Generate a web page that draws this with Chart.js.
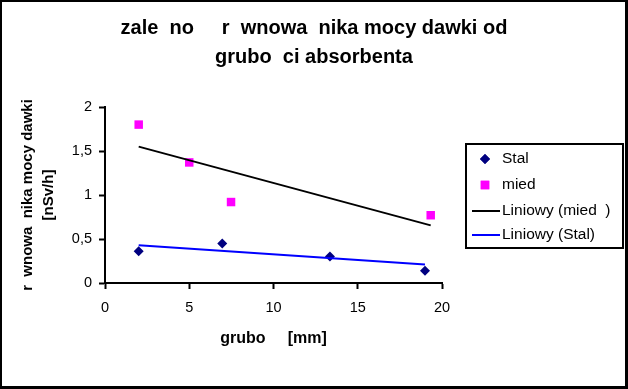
<!DOCTYPE html>
<html>
<head>
<meta charset="utf-8">
<script src="https://cdn.jsdelivr.net/npm/chart.js@4/dist/chart.umd.min.js"></script>
<style>
body{margin:0;background:#fff}
canvas{display:block}
</style>
</head>
<body>
<canvas id="chart" width="628" height="389"></canvas>
<script>
// values
let stalX = [2, 6.96, 13.35, 18.99];
let stalY = [0.36, 0.45, 0.30, 0.14];
let miedX = [2, 5, 7.48, 19.33];
let miedY = [1.80, 1.37, 0.92, 0.77];
// trend line ends (Excel "Liniowy")
let trendMiedX = [2, 19.33];
let trendMiedY = [1.55, 0.655];
let trendStalX = [2, 18.99];
let trendStalY = [0.43, 0.21];
let xTicks = [0, 5, 10, 15, 20];
let yTicks = [0, 0.5, 1, 1.5, 2];

let titleLines = ['zale  no     r  wnowa  nika mocy dawki od', 'grubo  ci absorbenta'];
let yTitle = ['r  wnowa  nika mocy dawki', '[nSv/h]'];
let xTitle = 'grubo     [mm]';
let labels = ['Stal', 'mied ', 'Liniowy (mied  )', 'Liniowy (Stal)'];

const FONT = "'Liberation Sans', Arial, sans-serif";

function pts(xs, ys) {
  return xs.map((x, i) => ({x: x, y: ys[i]}));
}

// outer frame + boxed legend like the Excel chart
const frame = {
  id: 'frame',
  afterDraw(chart) {
    let ctx = chart.ctx;
    ctx.save();
    ctx.fillStyle = '#000';
    ctx.fillRect(0, 0, 628, 2);
    ctx.fillRect(0, 0, 2, 389);
    ctx.fillRect(625, 0, 3, 389);
    ctx.fillRect(0, 386, 628, 3);

    ctx.fillStyle = '#fff';
    ctx.fillRect(465, 143, 159, 106);
    ctx.lineWidth = 2;
    ctx.strokeStyle = '#000';
    ctx.strokeRect(466, 144, 157, 104);

    let rows = [159, 185, 211, 235];
    ctx.font = '15.5px ' + FONT;
    ctx.textBaseline = 'middle';
    ctx.textAlign = 'left';
    chart.data.datasets.forEach((ds, i) => {
      let y = rows[i];
      if (ds.showLine) {
        ctx.strokeStyle = ds.borderColor;
        ctx.lineWidth = ds.borderWidth;
        ctx.beginPath();
        ctx.moveTo(472, y);
        ctx.lineTo(500, y);
        ctx.stroke();
      } else {
        ctx.fillStyle = ds.backgroundColor;
        Chart.helpers.drawPoint(ctx, {pointStyle: ds.pointStyle, radius: ds.pointRadius, borderWidth: 0}, 485, y);
        ctx.fill();
      }
      ctx.fillStyle = '#000';
      ctx.fillText(ds.label, 502, y);
    });
    ctx.restore();
  }
};

new Chart(document.getElementById('chart'), {
  type: 'scatter',
  data: {
    datasets: [
      {label: labels[0], data: pts(stalX, stalY), pointStyle: 'rectRot', pointRadius: 5, backgroundColor: '#000080', borderColor: '#000080', borderWidth: 0, order: 1},
      {label: labels[1], data: pts(miedX, miedY), pointStyle: 'rect', pointRadius: 6, backgroundColor: '#ff00ff', borderColor: '#ff00ff', borderWidth: 0, order: 2},
      {label: labels[2], data: pts(trendMiedX, trendMiedY), showLine: true, pointRadius: 0, borderColor: '#000', backgroundColor: '#000', borderWidth: 2, order: 0},
      {label: labels[3], data: pts(trendStalX, trendStalY), showLine: true, pointRadius: 0, borderColor: '#0000ff', backgroundColor: '#0000ff', borderWidth: 2, order: 0}
    ]
  },
  options: {
    responsive: false,
    animation: false,
    layout: {padding: {top: 4, left: 4, right: 4, bottom: 4}},
    plugins: {
      legend: {display: false},
      tooltip: {enabled: false},
      title: {
        display: true,
        text: titleLines,
        color: '#000',
        font: {family: FONT, size: 20, weight: 'bold', lineHeight: 29 / 20},
        padding: {top: 9.5, bottom: 35.5}
      }
    },
    scales: {
      x: {
        type: 'linear',
        min: 0, max: 20,
        afterBuildTicks: s => { s.ticks = xTicks.map(v => ({value: v})); },
        afterFit: s => { s.height = 102; },
        grid: {drawOnChartArea: false, tickLength: 6, tickColor: '#000', tickWidth: 2},
        border: {color: '#000', width: 2},
        ticks: {color: '#000', font: {family: FONT, size: 14.5}, padding: 10, maxRotation: 0},
        title: {display: true, text: xTitle, color: '#000', font: {family: FONT, size: 16, weight: 'bold'}, padding: {top: 0, bottom: 37}}
      },
      y: {
        type: 'linear',
        min: 0, max: 2,
        afterBuildTicks: s => { s.ticks = yTicks.map(v => ({value: v})); },
        afterFit: s => { s.width = 101; },
        grid: {drawOnChartArea: false, tickLength: 6, tickColor: '#000', tickWidth: 2},
        border: {color: '#000', width: 2},
        ticks: {color: '#000', font: {family: FONT, size: 14.5}, padding: 7,
          callback: v => String(v).replace('.', ',')},
        title: {display: true, text: yTitle, color: '#000', font: {family: FONT, size: 15, weight: 'bold', lineHeight: 21 / 15}, padding: {top: 13, bottom: 0}}
      },
      spacer: {
        type: 'linear',
        position: 'right',
        afterFit: s => { s.width = 182; },
        grid: {display: false},
        border: {display: false},
        ticks: {display: false}
      }
    }
  },
  plugins: [frame]
});
</script>
</body>
</html>
